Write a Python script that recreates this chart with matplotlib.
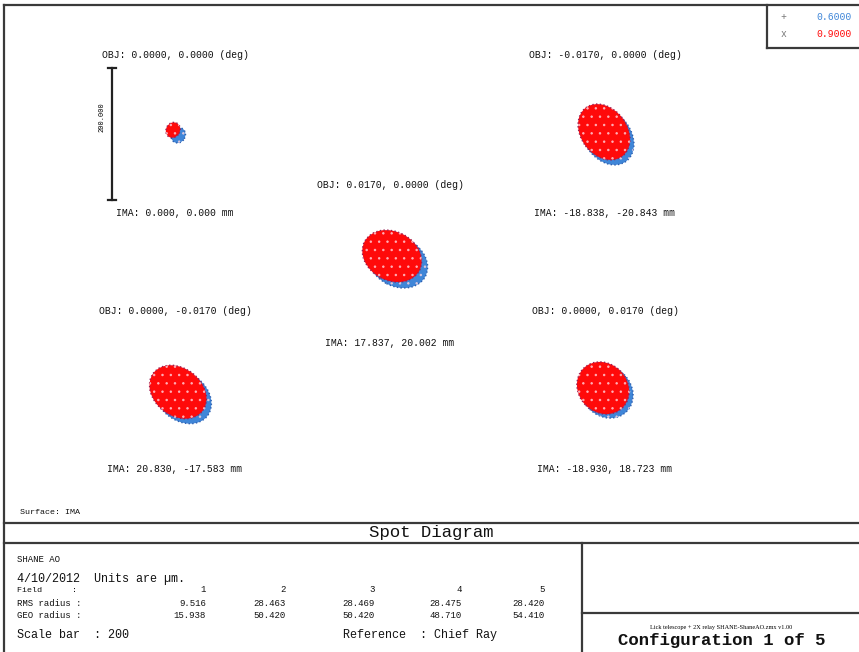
import matplotlib.pyplot as plt
from matplotlib.lines import Line2D
from matplotlib.patches import Ellipse

W, H = 859, 652
PX_PER_UM = 0.66
MONO = "Liberation Mono"
INK = "#3a3a3a"

# field labels
obj_labels = ["OBJ: 0.0000, 0.0000 (deg)", "OBJ: -0.0170, 0.0000 (deg)",
              "OBJ: 0.0170, 0.0000 (deg)", "OBJ: 0.0000, -0.0170 (deg)",
              "OBJ: 0.0000, 0.0170 (deg)"]
ima_labels = ["IMA: 0.000, 0.000 mm", "IMA: -18.838, -20.843 mm",
              "IMA: 17.837, 20.002 mm", "IMA: 20.830, -17.583 mm",
              "IMA: -18.930, 18.723 mm"]
field_ids = ["1", "2", "3", "4", "5"]
rms_radius = [9.516, 28.463, 28.469, 28.475, 28.420]
geo_radius = [15.938, 50.420, 50.420, 48.710, 54.410]
wavelengths = [0.6000, 0.9000]
wave_colors = ["#3f86d8", "#ff0a0a"]
wave_marks = ["+", "x"]
scale_bar_um = 200

# spot footprint per field, microns: semi-axes, tilt, centroid for each wavelength
spot_a = [12, 46, 47, 47, 42]
spot_b = [10.5, 35, 37, 36, 37]
spot_tilt = [60, -53, -28, -38, -45]
spot_x_06 = [5, 4.5, 12, 12, 3]
spot_y_06 = [-2, -4.5, 3, -10.5, -3]
spot_x_09 = [-3, -1.5, 3, 4.5, -3]
spot_y_09 = [6, 3, 12, -3, 3]

# where each field cell sits on the page (pixels from top-left)
cell_cx = [175, 605, 390, 175, 605]
cell_cy = [134, 134, 264, 390, 390]

plt.rcParams["hatch.linewidth"] = 0.6


def fx(x):
    return x / W


def fy(y):
    return 1 - y / H


fig = plt.figure(figsize=(W / 100, H / 100), dpi=100)
fig.patch.set_facecolor("white")


def rule(x0, y0, x1, y1):
    fig.add_artist(Line2D([fx(x0), fx(x1)], [fy(y0), fy(y1)], color=INK, lw=1.6))


def label(x, y, s, size=7, ha="left", **kw):
    fig.text(fx(x), fy(y), s, fontsize=size, ha=ha, va="center", family=MONO,
             color=kw.pop("color", "#111111"), **kw)


# frame
rule(4, 5, 859, 5)
rule(4, 5, 4, 652)
rule(4, 523, 859, 523)
rule(4, 543, 859, 543)
rule(582, 543, 582, 652)
rule(582, 613, 859, 613)
rule(767, 5, 767, 48)
rule(767, 48, 859, 48)

# wavelength key
for i, (wl, c, m) in enumerate(zip(wavelengths, wave_colors, wave_marks)):
    y = 17 + 17 * i
    label(783, y, m, size=7, ha="center", color="#777777")
    label(852, y, f"{wl:.4f}", size=7, ha="right", color=c)

# spot cells
sx = [spot_x_06, spot_x_09]
sy = [spot_y_06, spot_y_09]
edges = ["#2d5fb0", "#9a1f55"]
for i in range(5):
    ax = fig.add_axes([fx(cell_cx[i] - 110), fy(cell_cy[i] + 90), 220 / W, 180 / H])
    ax.set_xlim(-110 / PX_PER_UM, 110 / PX_PER_UM)
    ax.set_ylim(-90 / PX_PER_UM, 90 / PX_PER_UM)
    ax.axis("off")
    for w in range(2):
        xy = (sx[w][i], sy[w][i])
        ax.add_patch(Ellipse(xy, 2 * spot_a[i], 2 * spot_b[i], angle=spot_tilt[i],
                             facecolor=wave_colors[w], edgecolor=edges[w],
                             lw=1.0, ls=":"))
        # ray-grid speckle over the spot
        ax.add_patch(Ellipse(xy, 2 * spot_a[i], 2 * spot_b[i], angle=spot_tilt[i],
                             facecolor="none", edgecolor="#ffd6e0", lw=0,
                             hatch="..", alpha=0.7))
    ax.text(0, 79 / PX_PER_UM, obj_labels[i], ha="center", va="center",
            fontsize=7, family=MONO, color="#111111", clip_on=False)
    ax.text(0, -79 / PX_PER_UM, ima_labels[i], ha="center", va="center",
            fontsize=7, family=MONO, color="#111111", clip_on=False)
    if i == 0:
        half = scale_bar_um / 2
        ax.plot([-96, -96], [-half, half], color="#222222", lw=1.6)
        for yy in (-half, half):
            ax.plot([-102, -90], [yy, yy], color="#222222", lw=1.6)
        ax.text(-110, 25, f"{scale_bar_um:.3f}", rotation=90, ha="center",
                va="center", fontsize=5, family=MONO)

label(20, 512, "Surface: IMA", size=6)

# title band
label(431, 533, "Spot Diagram", size=12.5, ha="center")

# info panel
label(17, 560, "SHANE AO", size=6.5)
label(17, 579, "4/10/2012  Units are µm.", size=8.5)
col_right = [206, 286, 375, 462, 545]
label(17, 590, "Field      :", size=6)
label(17, 603, "RMS radius :", size=6.5)
label(17, 616, "GEO radius :", size=6.5)
for xr, fid, r, g in zip(col_right, field_ids, rms_radius, geo_radius):
    label(xr, 590, fid, size=6.5, ha="right")
    label(xr, 603, f"{r:.3f}", size=6.5, ha="right")
    label(xr, 616, f"{g:.3f}", size=6.5, ha="right")
label(17, 635, f"Scale bar  : {scale_bar_um}", size=8.5)
label(343, 635, "Reference  : Chief Ray", size=8.5)

fig.text(fx(721), fy(627), "Lick telescope + 2X relay SHANE-ShaneAO.zmx v1.00",
         fontsize=4.5, ha="center", va="center", family="Liberation Serif")
label(722, 640, "Configuration 1 of 5", size=12.5, ha="center", weight="bold")

fig.savefig("out.png", dpi=100, facecolor="white")
